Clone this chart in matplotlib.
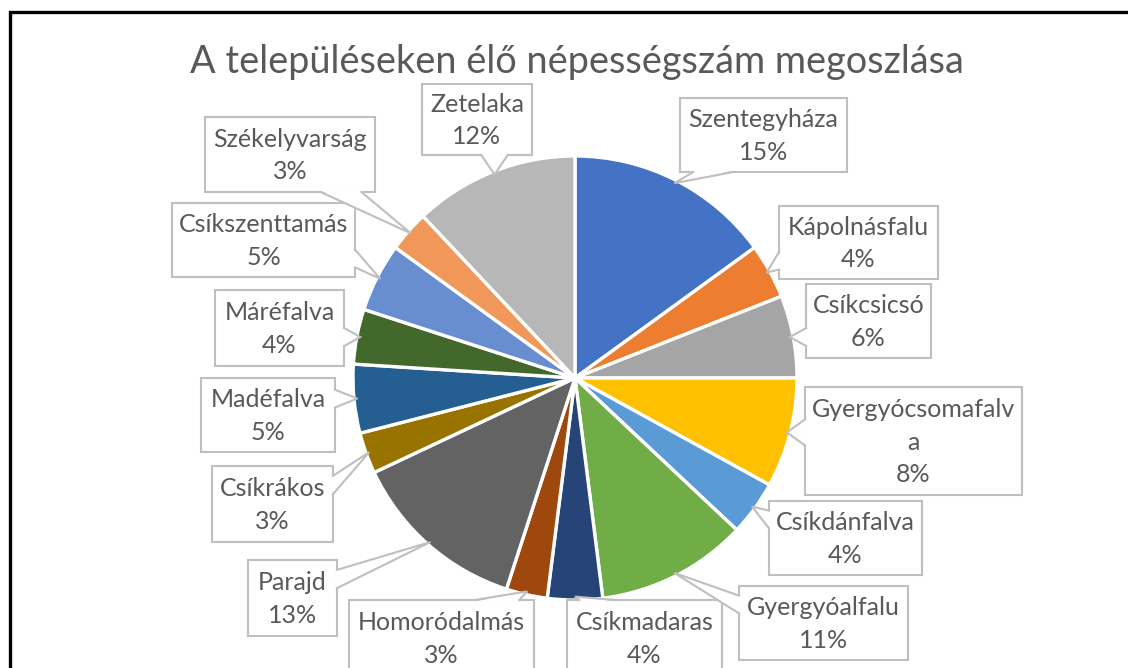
import numpy as np
import matplotlib
matplotlib.use("Agg")
import matplotlib.pyplot as plt
from matplotlib.patches import Rectangle, Polygon

plt.rcParams['font.family'] = ['Lato', 'DejaVu Sans']

title = "A településeken élő népességszám megoszlása"
names = ["Szentegyháza", "Kápolnásfalu", "Csíkcsicsó", "Gyergyócsomafalva",
         "Csíkdánfalva", "Gyergyóalfalu", "Csíkmadaras", "Homoródalmás",
         "Parajd", "Csíkrákos", "Madéfalva", "Máréfalva", "Csíkszenttamás",
         "Székelyvarság", "Zetelaka"]
values = [15, 4, 6, 8, 4, 11, 4, 3, 13, 3, 5, 4, 5, 3, 12]
colors = ["#4472C4", "#ED7D31", "#A5A5A5", "#FFC000", "#5B9BD5", "#70AD47",
          "#264478", "#9E480E", "#636363", "#997300", "#255E91", "#43682B",
          "#698ED0", "#F1975A", "#B7B7B7"]

# callout boxes in pixel coordinates (x0, y0, x1, y1), y downwards
boxes = [(680, 98, 847, 172), (779, 206, 938, 279), (806, 284, 931, 358),
         (805, 387, 1022, 495), (769, 501, 922, 575), (739, 586, 908, 660),
         (567, 600, 722, 676), (349, 600, 534, 676), (248, 560, 337, 636),
         (212, 466, 333, 542), (201, 378, 335, 452), (215, 290, 344, 366),
         (172, 203, 355, 277), (205, 117, 375, 192), (422, 84, 532, 155)]

cx, cy, r = 575, 378, 222
txt_col = "#595959"
box_col = "#BFBFBF"

fig = plt.figure(figsize=(11.28, 6.68), dpi=100)
ax = fig.add_axes([0, 0, 1, 1])

# y axis points down, so counterclock in data = clockwise on screen
ax.pie(values, colors=colors, center=(cx, cy), radius=r, startangle=-90,
       counterclock=True, wedgeprops=dict(edgecolor="white", linewidth=2.4))

ax.set_xlim(0, 1128)
ax.set_ylim(668, 0)
ax.set_aspect("equal")
ax.axis("off")

total = float(sum(values))
cum = np.cumsum(values) - np.array(values) / 2.0
for i, name in enumerate(names):
    x0, y0, x1, y1 = boxes[i]
    ang = np.deg2rad(-90 + 360 * cum[i] / total)
    tx = cx + 0.985 * r * np.cos(ang)
    ty = cy + 0.985 * r * np.sin(ang)

    ax.add_patch(Rectangle((x0, y0), x1 - x0, y1 - y0, facecolor="white",
                           edgecolor=box_col, linewidth=1.5, zorder=4))

    # speech-bubble pointer from the box edge to the slice
    dx = x0 - tx if tx < x0 else (tx - x1 if tx > x1 else 0)
    dy = y0 - ty if ty < y0 else (ty - y1 if ty > y1 else 0)
    if dx > 0 or dy > 0:
        if dx >= dy:
            xe = x0 if tx < x0 else x1
            h = y1 - y0
            m = np.clip(ty, y0 + 0.25 * h, y1 - 0.25 * h)
            b1, b2 = (xe, m - 0.12 * h), (xe, m + 0.12 * h)
            inset = (1.5 if tx > x1 else -1.5, 0)
        else:
            ye = y0 if ty < y0 else y1
            w = x1 - x0
            m = np.clip(tx, x0 + 0.2 * w, x1 - 0.2 * w)
            b1, b2 = (m - 0.12 * w, ye), (m + 0.12 * w, ye)
            inset = (0, 1.5 if ty > y1 else -1.5)
        ax.add_patch(Polygon([(b1[0] - inset[0], b1[1] - inset[1]), (tx, ty),
                              (b2[0] - inset[0], b2[1] - inset[1])],
                             closed=True, facecolor="white", edgecolor="none",
                             zorder=5))
        ax.plot([b1[0], tx, b2[0]], [b1[1], ty, b2[1]], color=box_col,
                linewidth=1.5, zorder=6, solid_joinstyle="miter")

    label = name if len(name) <= 16 else name[:16] + "\n" + name[16:]
    label = label + "\n" + f"{round(values[i] / total * 100)}%"
    ax.text((x0 + x1) / 2, (y0 + y1) / 2 + 1, label, ha="center", va="center",
            multialignment="center", fontsize=18, color=txt_col,
            linespacing=1.5, zorder=7)

ax.text(577, 62, title, ha="center", va="center", fontsize=27.3,
        color=txt_col, zorder=7)

# outer frame (only top and left edges visible)
ax.plot([10, 10, 1128], [668, 11.5, 11.5], color="black", linewidth=2.4,
        solid_joinstyle="miter", clip_on=False, zorder=8)

fig.savefig("out.png", dpi=100)
